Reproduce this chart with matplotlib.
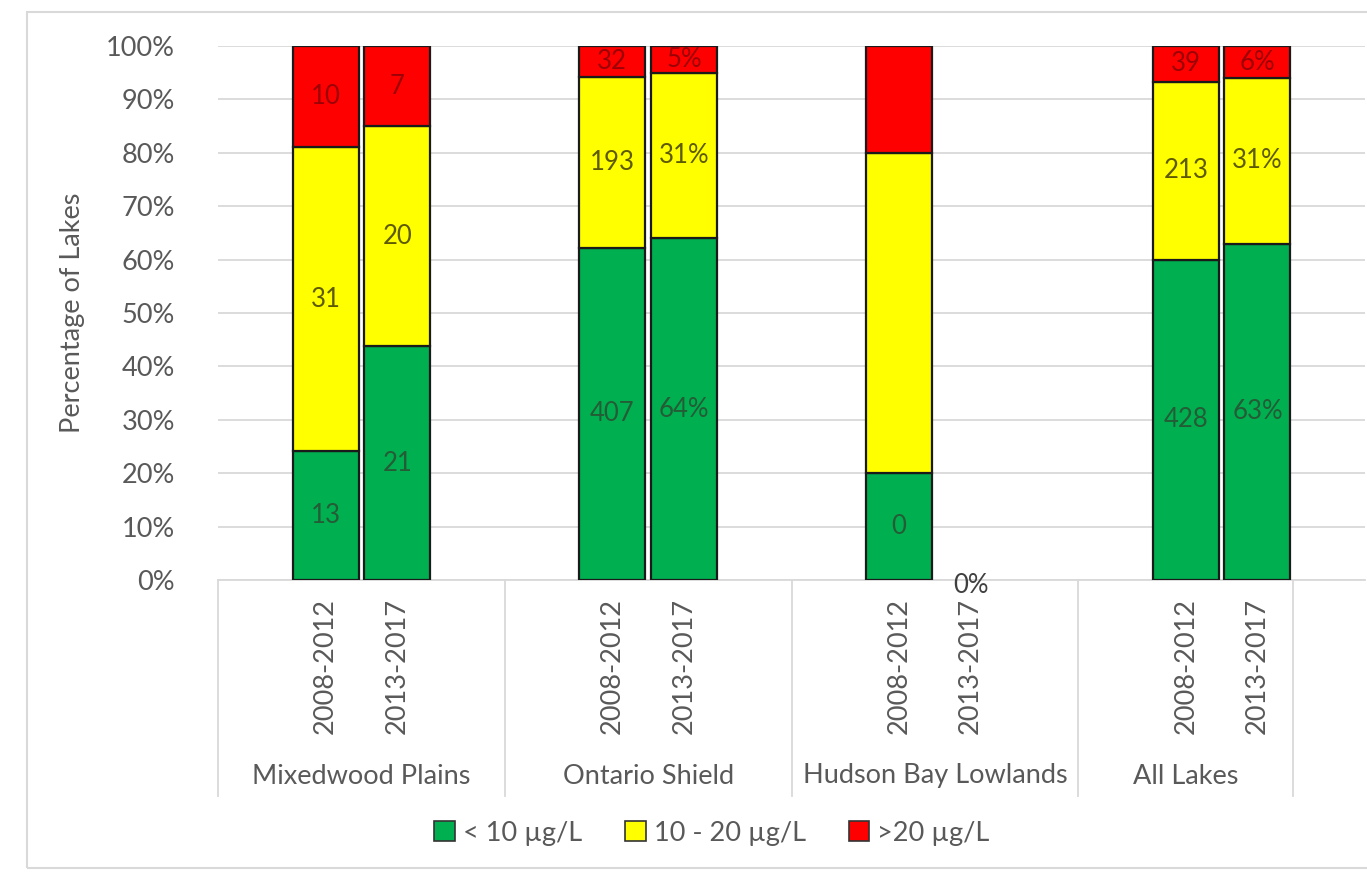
import matplotlib
matplotlib.use("Agg")
import matplotlib.pyplot as plt
from matplotlib.patches import Rectangle, Patch
import matplotlib.transforms as mtransforms
from matplotlib.ticker import FuncFormatter

plt.rcParams['font.family'] = ['Lato', 'DejaVu Sans']

# Regions and sampling periods
regions = ["Mixedwood Plains", "Ontario Shield", "Hudson Bay Lowlands", "All Lakes"]
periods = ["2008-2012", "2013-2017"]

# Share of lakes (%) in each total phosphorus class, one entry per region/period bar
low_pct = [24.1, 43.8, 62.2, 64, 20, 0, 60, 63]
mid_pct = [56.9, 41.2, 32.0, 31, 60, 0, 33.3, 31]
high_pct = [19.0, 15.0, 5.8, 5, 20, 0, 6.7, 6]

# Data labels printed on each segment
low_lbl = ["13", "21", "407", "64%", "0", "0%", "428", "63%"]
mid_lbl = ["31", "20", "193", "31%", "", "", "213", "31%"]
high_lbl = ["10", "7", "32", "5%", "", "", "39", "6%"]

series_names = ["< 10 \u00b5g/L", "10 - 20 \u00b5g/L", ">20 \u00b5g/L"]
colors = ["#00b050", "#ffff00", "#ff0000"]
label_colors = ["#245c36", "#5e5a00", "#9c0006"]

W, H = 1367, 873
fig = plt.figure(figsize=(W / 100, H / 100), dpi=100)
fig.patch.set_facecolor("white")

# Chart frame
fig.add_artist(Rectangle((27 / W, 1 - 868 / H), (W + 20 - 27) / W, (868 - 12) / H,
                         transform=fig.transFigure, fill=False,
                         edgecolor="#d9d9d9", linewidth=1.5))

ax_l, ax_r, ax_t, ax_b = 218, 1365, 46, 580
ax = fig.add_axes([ax_l / W, 1 - ax_b / H, (ax_r - ax_l) / W, (ax_b - ax_t) / H])

# Category slots: each region has a blank slot either side of its two periods
slots_per_group = 4
n_slots = 16
bar_x = []
for g in range(len(regions)):
    for p in range(len(periods)):
        bar_x.append(g * slots_per_group + 1 + p + 0.5)

width = 0.92
bottoms = [0] * len(bar_x)
for vals, lbls, col, lc in zip([low_pct, mid_pct, high_pct],
                               [low_lbl, mid_lbl, high_lbl], colors, label_colors):
    edges = ["#1a1a1a" if v > 0 else "none" for v in vals]
    ax.bar(bar_x, vals, width=width, bottom=bottoms, color=col,
           edgecolor=edges, linewidth=1.6, zorder=3)
    for x, v, b, t in zip(bar_x, vals, bottoms, lbls):
        if not t:
            continue
        if v > 0:
            ax.text(x, b + v / 2, t, ha="center", va="center",
                    fontsize=18.5, color=lc, zorder=4)
        else:
            ax.annotate(t, (x, b), xytext=(0, -4), textcoords="offset points",
                        ha="center", va="center", fontsize=18.5,
                        color="#404040", zorder=4, annotation_clip=False)
    bottoms = [b + v for b, v in zip(bottoms, vals)]

ax.set_xlim(0, n_slots)
ax.set_ylim(0, 100)
ax.set_yticks(range(0, 101, 10))
ax.yaxis.set_major_formatter(FuncFormatter(lambda v, _: f"{int(v)}%"))
ax.tick_params(axis="y", length=0, pad=31, labelsize=19.5, labelcolor="#595959")
ax.set_xticks([])
ax.grid(axis="y", color="#d9d9d9", linewidth=1.3, zorder=0)
for s in ["top", "right", "left"]:
    ax.spines[s].set_visible(False)
ax.spines["bottom"].set_color("#d9d9d9")
ax.spines["bottom"].set_linewidth(1.3)

ax.set_ylabel("Percentage of Lakes", fontsize=19.5, color="#595959")
ax.yaxis.set_label_coords((85 - ax_l) / (ax_r - ax_l), 0.5)

trans = mtransforms.blended_transform_factory(ax.transData, ax.transAxes)
ph = ax_b - ax_t

# Period labels (rotated) under each bar
for i, x in enumerate(bar_x):
    ax.text(x, (ax_b - 598) / ph, periods[i % 2], rotation=90, ha="center",
            va="top", fontsize=19.5, color="#595959", transform=trans)

# Region labels and separators of the multi-level axis
group_bounds = [(0, 4), (4, 8), (8, 12), (12, 15)]
for name, (a, b) in zip(regions, group_bounds):
    ax.text((a + b) / 2, (ax_b - 776) / ph, name, ha="center", va="center",
            fontsize=19.5, color="#595959", transform=trans)
for xs in [0, 4, 8, 12, 15]:
    ax.plot([xs, xs], [0, (ax_b - 796) / ph], color="#d9d9d9", linewidth=1.3,
            transform=trans, clip_on=False)

handles = [Patch(facecolor=c, edgecolor="#333333", linewidth=1.2) for c in colors]
fig.legend(handles, series_names, loc="center", bbox_to_anchor=(712 / W, 1 - 833 / H),
           ncol=3, frameon=False, fontsize=19.5, handlelength=0.75, handleheight=0.75,
           handletextpad=0.3, columnspacing=1.6, labelcolor="#595959")

fig.savefig("out.png", dpi=100, facecolor="white")
